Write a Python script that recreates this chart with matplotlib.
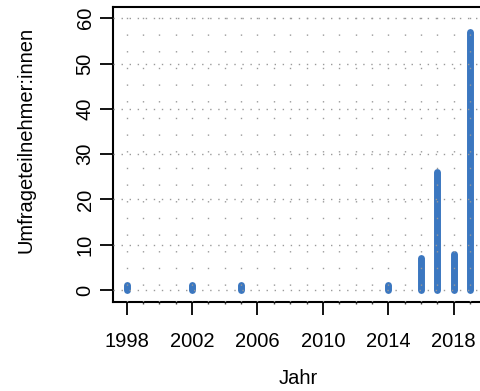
import numpy as np
import matplotlib.pyplot as plt
from matplotlib.ticker import MultipleLocator

# survey participants per year
years = [1998, 2002, 2005, 2014, 2016, 2017, 2018, 2019]
counts = [1, 1, 1, 1, 7, 26, 8, 57]

xticks = [1998, 2002, 2006, 2010, 2014, 2018]
yticks = [0, 10, 20, 30, 40, 50, 60]

bar_color = "#3b77c0"
grid_color = "#9a9a9a"

plt.rcParams["font.family"] = ["Liberation Sans", "DejaVu Sans"]
plt.rcParams["font.size"] = 14.5

W, H = 480, 391
fig = plt.figure(figsize=(W / 100, H / 100), dpi=100)
# plot box runs a little past the right edge of the figure
left, right, top, bottom = 113.3, 483.7, 6.7, 301.7
ax = fig.add_axes([left / W, 1 - bottom / H, (right - left) / W, (bottom - top) / H])

ax.set_xlim(1997.18, 2019.84)
ax.set_ylim(-2.58, 62.56)

# histogram-style vertical lines from zero, round ends
for yr, n in zip(years, counts):
    ax.plot([yr, yr], [0, n], color=bar_color, lw=5.0,
            solid_capstyle="round", zorder=2)

# dotted grid drawn on top of the lines
for yr in range(1998, 2020):
    ax.axvline(yr, color=grid_color, lw=1.0, linestyle=(0, (1, 11)), zorder=3)
for v in yticks:
    ax.axhline(v, color=grid_color, lw=1.0, linestyle=(0, (1, 4.8)), zorder=3)

ax.set_xticks(xticks)
ax.set_yticks(yticks)
ax.xaxis.set_minor_locator(MultipleLocator(1))
ax.tick_params(axis="both", which="major", direction="out", length=9.5,
               width=1.3, color="black")
ax.tick_params(axis="x", which="major", pad=12)
ax.tick_params(axis="y", which="major", pad=4)
ax.tick_params(axis="x", which="minor", direction="out", length=1.5,
               width=1.0, color="#444444")
ax.tick_params(axis="y", which="minor", left=False)
plt.setp(ax.get_yticklabels(), rotation=90, va="center")

for s in ax.spines.values():
    s.set_linewidth(1.5)
    s.set_color("black")

ax.set_xlabel("Jahr")
ax.xaxis.set_label_coords((298 - left) / (right - left), 1 - (378 - top) / (bottom - top))
ax.xaxis.label.set_va("center")
ax.set_ylabel("Umfrageteilnehmer:innen")
ax.yaxis.set_label_coords((26 - left) / (right - left), 1 - (140 - top) / (bottom - top))
ax.yaxis.label.set_va("center")

fig.savefig("out.png", dpi=100)
